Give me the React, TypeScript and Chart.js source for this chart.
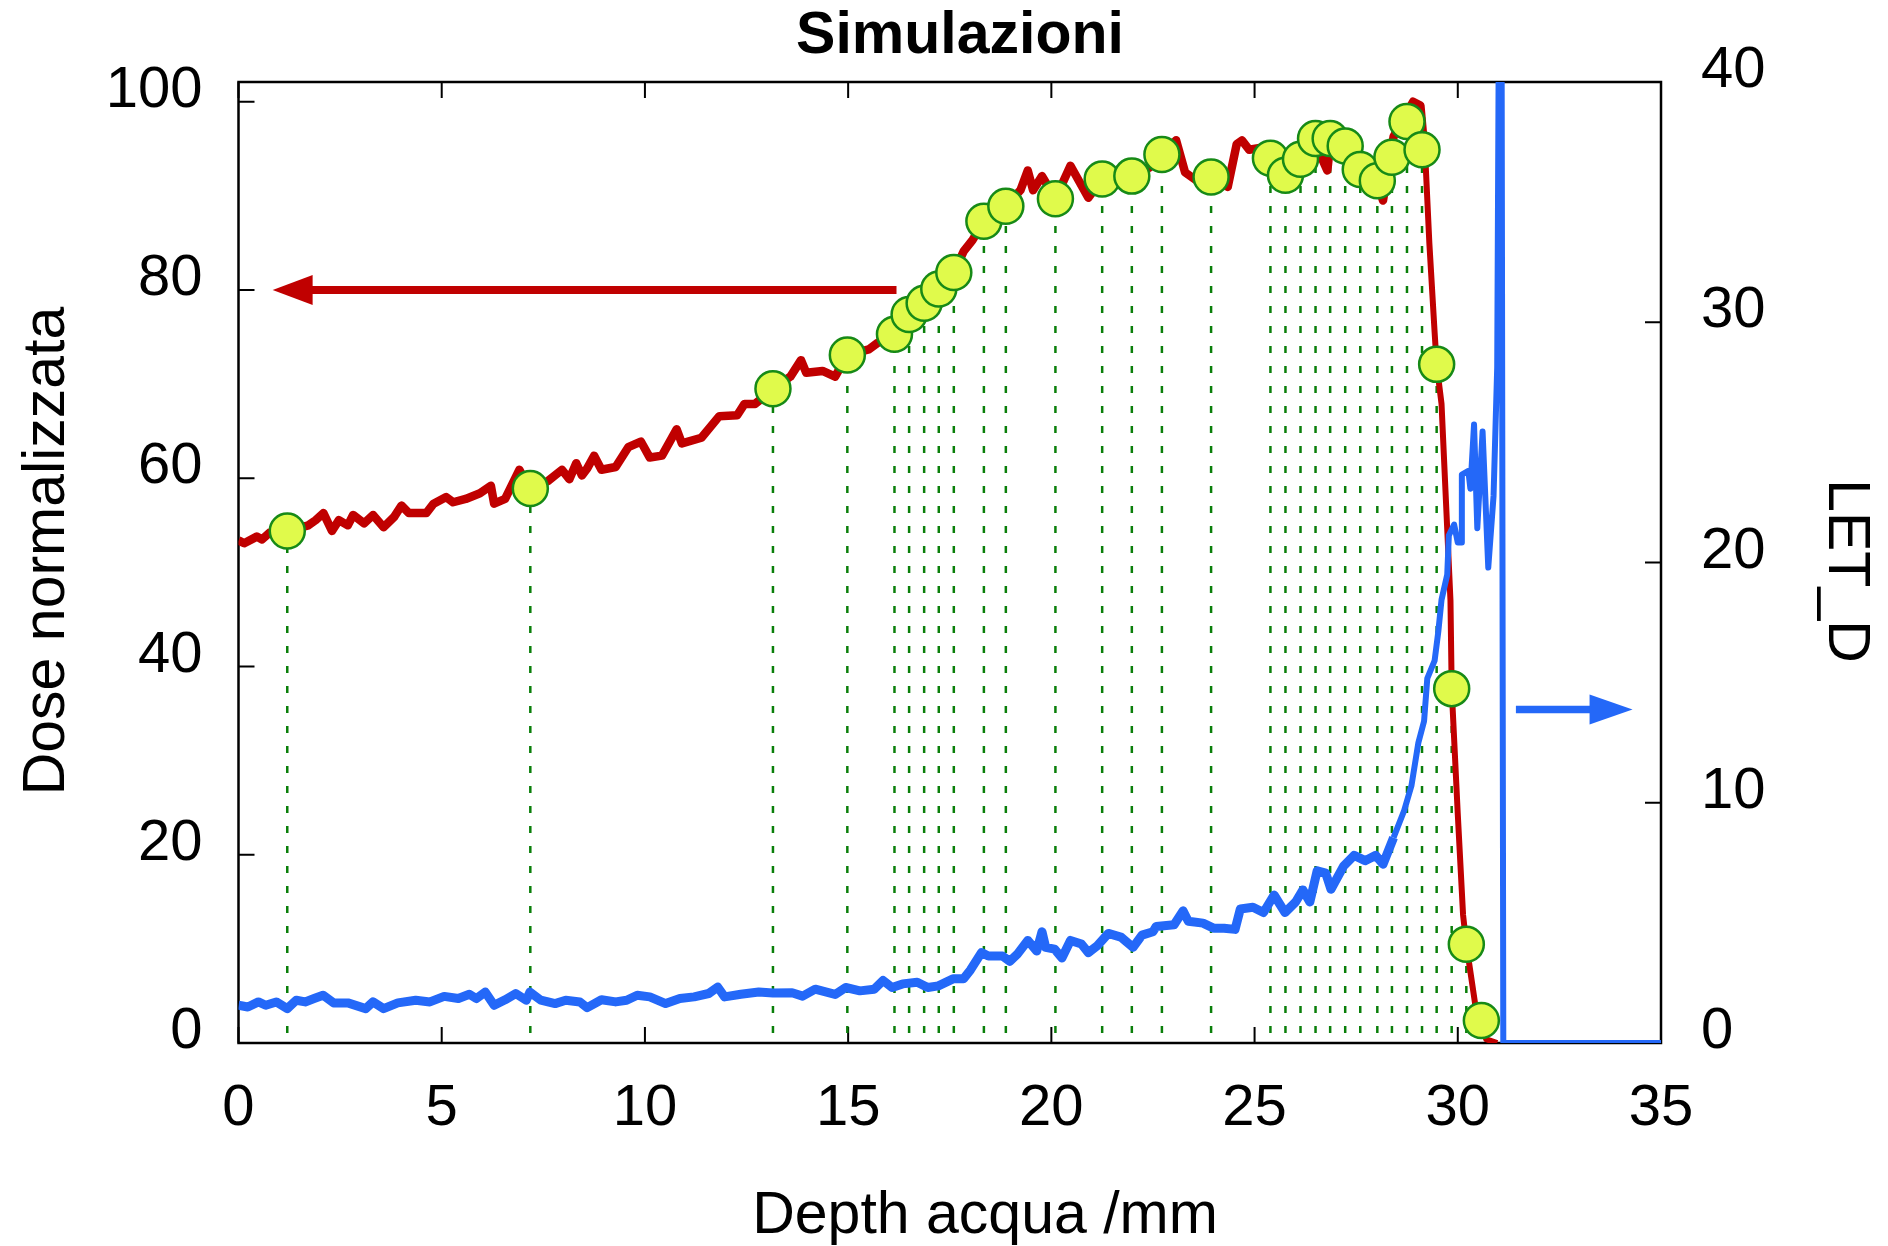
import React, { useEffect, useRef } from "react";
import { Chart, registerables } from "chart.js";

Chart.register(...registerables);

const FONT = "'Liberation Sans', Arial, Helvetica, sans-serif";

const chartTitle = "Simulazioni";
const xTitle = "Depth acqua /mm";
const doseTitle = "Dose normalizzata";
const letTitle = "LET_D";

const depthTicks = [0, 5, 10, 15, 20, 25, 30, 35];
const doseTicks = [0, 20, 40, 60, 80, 100];
const letTicks = [0, 10, 20, 30, 40];

// Dose profile (depth mm, normalised dose)
const doseProfile: [number, number][] = [
  [0, 53.4], [0.14, 53.1], [0.45, 53.8], [0.58, 53.5], [0.76, 54.2], [1.2, 54.4], [1.72, 55.0],
  [1.9, 55.55], [2.09, 56.3], [2.3, 54.4], [2.47, 55.55], [2.69, 55.0], [2.82, 56.1], [3.09, 55.2],
  [3.31, 56.1], [3.57, 54.8], [3.83, 55.9], [4.01, 57.1], [4.19, 56.3], [4.62, 56.3], [4.8, 57.3],
  [5.11, 58.0], [5.28, 57.45], [5.59, 57.8], [5.94, 58.4], [6.21, 59.2], [6.29, 57.3], [6.56, 57.8],
  [6.91, 60.9], [7.08, 59.5], [7.18, 58.9], [7.61, 59.7], [7.96, 60.9], [8.14, 59.9], [8.31, 61.6],
  [8.45, 60.3], [8.58, 61.05], [8.75, 62.4], [8.93, 60.9], [9.28, 61.2], [9.59, 63.3], [9.9, 63.9],
  [10.12, 62.2], [10.42, 62.4], [10.78, 65.2], [10.91, 63.7], [11.39, 64.3], [11.83, 66.6],
  [12.27, 66.7], [12.45, 67.9], [12.71, 67.9], [12.97, 68.8], [13.15, 69.5], [13.58, 70.8],
  [13.84, 72.55], [13.97, 71.2], [14.37, 71.4], [14.68, 70.8], [14.98, 73.1], [15.51, 73.7],
  [15.73, 74.4], [16.14, 75.3], [16.5, 77.4], [16.87, 78.6], [17.23, 80.1], [17.6, 81.85],
  [17.84, 84.1], [18.06, 85.3], [18.34, 87.3], [18.88, 88.9], [19.24, 90.6], [19.42, 92.7],
  [19.55, 90.6], [19.77, 92.1], [20.1, 89.7], [20.47, 93.2], [20.91, 89.8], [21.25, 91.8],
  [21.98, 92.1], [22.41, 93.0], [22.72, 94.4], [23.07, 95.9], [23.29, 92.5], [23.55, 91.7],
  [23.93, 92.0], [24.34, 90.95], [24.56, 95.5], [24.69, 95.9], [24.87, 94.9], [25.13, 95.1],
  [25.39, 94.5], [25.76, 93.5], [26.13, 94.5], [26.5, 95.5], [26.79, 92.7], [26.86, 95.5],
  [27.23, 95.0], [27.6, 93.0], [28.02, 91.5], [28.16, 89.5], [28.42, 96.3], [28.9, 100.0],
  [29.08, 99.6], [29.21, 93.3], [29.3, 85.0], [29.43, 75.5], [29.48, 72.1], [29.6, 67.9],
  [29.82, 47.0], [29.85, 37.65], [30.0, 24.3], [30.13, 13.6], [30.21, 10.5], [30.44, 3.77],
  [30.7, 0.4], [30.97, 0],
];

// LET_D profile (depth mm, LET)
const letProfile: [number, number][] = [
  [0, 1.57], [0.23, 1.5], [0.49, 1.71], [0.67, 1.57], [0.93, 1.71], [1.2, 1.43], [1.42, 1.78],
  [1.64, 1.71], [1.86, 1.85], [2.08, 1.99], [2.34, 1.67], [2.69, 1.67], [3.13, 1.43], [3.31, 1.71],
  [3.57, 1.43], [3.92, 1.67], [4.36, 1.78], [4.71, 1.71], [5.06, 1.94], [5.41, 1.85], [5.68, 2.03],
  [5.85, 1.85], [6.07, 2.12], [6.29, 1.57], [6.56, 1.8], [6.82, 2.06], [7.08, 1.78], [7.17, 2.12],
  [7.44, 1.78], [7.79, 1.64], [8.05, 1.78], [8.4, 1.71], [8.58, 1.47], [8.93, 1.8], [9.28, 1.71],
  [9.55, 1.78], [9.81, 1.99], [10.12, 1.92], [10.51, 1.64], [10.86, 1.85], [11.21, 1.92],
  [11.57, 2.06], [11.79, 2.33], [11.96, 1.92], [12.36, 2.03], [12.8, 2.12], [13.15, 2.08],
  [13.62, 2.09], [13.88, 1.95], [14.19, 2.24], [14.68, 2.02], [14.94, 2.31], [15.29, 2.17],
  [15.64, 2.24], [15.86, 2.6], [16.08, 2.31], [16.34, 2.46], [16.7, 2.53], [16.96, 2.31],
  [17.22, 2.38], [17.58, 2.67], [17.84, 2.67], [18.01, 3.04], [18.28, 3.76], [18.45, 3.62],
  [18.8, 3.62], [18.98, 3.4], [19.16, 3.69], [19.42, 4.27], [19.64, 3.83], [19.77, 4.63],
  [19.86, 3.98], [20.08, 3.91], [20.26, 3.54], [20.47, 4.27], [20.74, 4.12], [20.91, 3.76],
  [21.13, 4.05], [21.4, 4.56], [21.71, 4.41], [22.01, 3.98], [22.23, 4.49], [22.5, 4.63],
  [22.58, 4.85], [23.02, 4.92], [23.24, 5.5], [23.37, 5.07], [23.73, 4.99], [23.99, 4.78],
  [24.25, 4.78], [24.52, 4.73], [24.65, 5.58], [24.96, 5.65], [25.22, 5.43], [25.48, 6.16],
  [25.75, 5.43], [26.01, 5.87], [26.19, 6.37], [26.36, 5.87], [26.54, 7.17], [26.75, 7.07],
  [26.88, 6.4], [27.19, 7.36], [27.45, 7.81], [27.72, 7.59], [27.98, 7.81], [28.16, 7.44],
  [28.42, 8.55], [28.68, 9.67], [28.86, 10.71], [29.03, 12.5], [29.17, 13.39], [29.25, 15.18],
  [29.43, 15.92], [29.52, 17.11], [29.6, 18.45], [29.74, 19.49], [29.78, 21.13], [29.91, 21.58],
  [30.0, 20.83], [30.09, 20.83], [30.1, 23.66], [30.26, 23.81], [30.31, 23.07], [30.4, 25.74],
  [30.48, 21.43], [30.61, 25.45], [30.75, 19.79], [30.88, 22.77], [30.97, 28.12], [31.06, 60],
  [31.12, 0], [35, 0],
];

// Sampled points (depth mm, dose)
const sampleDepth = [
  1.2, 7.18, 13.15, 14.98, 16.14, 16.5, 16.87, 17.23, 17.6, 18.34, 18.88, 20.1, 21.25, 21.98,
  22.72, 23.93, 25.39, 25.76, 26.13, 26.5, 26.86, 27.23, 27.6, 28.02, 28.38, 28.75, 29.12,
  29.48, 29.85, 30.21, 30.58,
];
const sampleDose = [
  54.4, 58.9, 69.5, 73.1, 75.3, 77.4, 78.6, 80.1, 81.85, 87.3, 88.9, 89.7, 91.8, 92.1,
  94.4, 92.0, 94.0, 92.2, 93.9, 96.1, 96.1, 95.3, 92.8, 91.6, 94.1, 97.9, 94.9,
  72.1, 37.65, 10.5, 2.4,
];

// Arrows: [tail, tip] in data units
const doseArrow: [number, number][] = [[16.19, 80], [0.84, 80]];
const letArrow: [number, number][] = [[31.43, 13.88], [34.3, 13.88]];

const RED = "#c00000";
const BLUE = "#2468f8";
const MARK_FILL = "#e0fa4b";
const MARK_EDGE = "#178a17";
const DROP = "#0a7f0a";

function drawArrow(
  ctx: CanvasRenderingContext2D,
  x1: number, y1: number, x2: number, y2: number,
  color: string, shaft: number, headLen: number, headW: number
) {
  const ang = Math.atan2(y2 - y1, x2 - x1);
  const c = Math.cos(ang), s = Math.sin(ang);
  const bx = x2 - c * headLen, by = y2 - s * headLen;
  ctx.save();
  ctx.strokeStyle = color;
  ctx.fillStyle = color;
  ctx.lineWidth = shaft;
  ctx.lineCap = "butt";
  ctx.beginPath();
  ctx.moveTo(x1, y1);
  ctx.lineTo(bx + c * 2, by + s * 2);
  ctx.stroke();
  ctx.beginPath();
  ctx.moveTo(x2, y2);
  ctx.lineTo(bx - s * headW / 2, by + c * headW / 2);
  ctx.lineTo(bx + s * headW / 2, by - c * headW / 2);
  ctx.closePath();
  ctx.fill();
  ctx.restore();
}

const framePlugin = {
  id: "frameAndLabels",
  beforeDatasetsDraw(chart: any) {
    const ctx: CanvasRenderingContext2D = chart.ctx;
    const { left, right, top, bottom } = chart.chartArea;
    const xs = chart.scales.x, ys = chart.scales.y, y2s = chart.scales.y2;
    ctx.save();
    ctx.strokeStyle = "#000";
    ctx.lineWidth = 2.5;
    ctx.strokeRect(left, top, right - left, bottom - top);
    ctx.lineWidth = 2;
    const tl = 16;
    ctx.beginPath();
    for (const v of depthTicks) {
      const px = xs.getPixelForValue(v);
      ctx.moveTo(px, bottom); ctx.lineTo(px, bottom - tl);
      ctx.moveTo(px, top); ctx.lineTo(px, top + tl);
    }
    for (const v of doseTicks) {
      const py = ys.getPixelForValue(v);
      ctx.moveTo(left, py); ctx.lineTo(left + tl, py);
    }
    for (const v of letTicks) {
      const py = y2s.getPixelForValue(v);
      ctx.moveTo(right, py); ctx.lineTo(right - tl, py);
    }
    ctx.stroke();
    ctx.restore();
  },
  afterDatasetsDraw(chart: any) {
    const ctx: CanvasRenderingContext2D = chart.ctx;
    const xs = chart.scales.x, ys = chart.scales.y, y2s = chart.scales.y2;
    drawArrow(
      ctx,
      xs.getPixelForValue(doseArrow[0][0]), ys.getPixelForValue(doseArrow[0][1]),
      xs.getPixelForValue(doseArrow[1][0]), ys.getPixelForValue(doseArrow[1][1]),
      RED, 8, 40, 30
    );
    drawArrow(
      ctx,
      xs.getPixelForValue(letArrow[0][0]), y2s.getPixelForValue(letArrow[0][1]),
      xs.getPixelForValue(letArrow[1][0]), y2s.getPixelForValue(letArrow[1][1]),
      BLUE, 7.5, 43, 30
    );
  },
  afterDraw(chart: any) {
    const ctx: CanvasRenderingContext2D = chart.ctx;
    ctx.save();
    ctx.fillStyle = "#000";
    ctx.textBaseline = "alphabetic";
    ctx.textAlign = "center";
    ctx.font = `bold 59px ${FONT}`;
    ctx.fillText(chartTitle, 960, 53);
    ctx.font = `59px ${FONT}`;
    ctx.fillText(xTitle, 985, 1233);
    ctx.save();
    ctx.translate(64, 551);
    ctx.rotate(-Math.PI / 2);
    ctx.fillText(doseTitle, 0, 0);
    ctx.restore();
    ctx.save();
    ctx.translate(1829, 571);
    ctx.rotate(Math.PI / 2);
    ctx.fillText(letTitle, 0, 0);
    ctx.restore();
    ctx.restore();
  },
};

export default function App() {
  const ref = useRef<HTMLCanvasElement>(null);

  useEffect(() => {
    document.body.style.margin = "0";
    const canvas = ref.current!;
    Chart.defaults.font.family = FONT;

    const dropData: any[] = [];
    sampleDepth.forEach((x, i) => {
      dropData.push({ x, y: 0 }, { x, y: sampleDose[i] }, { x, y: null });
    });

    const tickFont = { size: 58, family: FONT };

    const chart = new Chart(canvas, {
      type: "line",
      data: {
        datasets: [
          {
            label: "campioni",
            data: sampleDepth.map((x, i) => ({ x, y: sampleDose[i] })),
            yAxisID: "y",
            showLine: false,
            pointRadius: 17.5,
            pointBackgroundColor: MARK_FILL,
            pointBorderColor: MARK_EDGE,
            pointBorderWidth: 2.5,
            clip: false,
          },
          {
            label: "LET_D",
            data: letProfile.map(([x, y]) => ({ x, y })),
            yAxisID: "y2",
            borderColor: BLUE,
            borderWidth: 6,
            borderJoinStyle: "round",
            segment: {
              borderWidth: (c: any) => (c.p0.parsed.x < 28.4 ? 9 : 6),
            },
            pointRadius: 0,
            tension: 0,
          },
          {
            label: "Dose",
            data: doseProfile.map(([x, y]) => ({ x, y })),
            yAxisID: "y",
            borderColor: RED,
            borderWidth: 6,
            borderJoinStyle: "round",
            segment: {
              borderWidth: (c: any) => (c.p0.parsed.x < 29.1 ? 8.5 : 6),
            },
            pointRadius: 0,
            tension: 0,
          },
          {
            label: "drop",
            data: dropData,
            yAxisID: "y",
            borderColor: DROP,
            borderWidth: 2.5,
            borderDash: [7, 13],
            borderDashOffset: 10,
            pointRadius: 0,
            spanGaps: false,
            tension: 0,
          },
        ],
      },
      options: {
        responsive: false,
        animation: false,
        events: [],
        layout: { padding: { top: 82, left: 0, right: 0, bottom: 0 } },
        plugins: {
          legend: { display: false },
          tooltip: { enabled: false },
          title: { display: false },
        },
        scales: {
          x: {
            type: "linear",
            position: "bottom",
            min: 0,
            max: 35,
            grid: { display: false, drawTicks: false, tickLength: 0 },
            border: { display: false },
            ticks: { padding: 31, font: tickFont, color: "#000", maxRotation: 0, autoSkip: false },
            afterBuildTicks: (s: any) => { s.ticks = depthTicks.map((v) => ({ value: v })); },
            afterFit: (s: any) => { s.height = 203; },
          },
          y: {
            type: "linear",
            position: "left",
            min: 0,
            max: 102.1,
            grid: { display: false, drawTicks: false, tickLength: 0 },
            border: { display: false },
            ticks: { padding: 36, labelOffset: -11, font: tickFont, color: "#000", autoSkip: false },
            afterBuildTicks: (s: any) => { s.ticks = doseTicks.map((v) => ({ value: v })); },
            afterFit: (s: any) => { s.width = 238.5; },
          },
          y2: {
            type: "linear",
            position: "right",
            min: 0,
            max: 40,
            grid: { display: false, drawTicks: false, tickLength: 0 },
            border: { display: false },
            ticks: { padding: 40, labelOffset: -11, font: tickFont, color: "#000", autoSkip: false },
            afterBuildTicks: (s: any) => { s.ticks = letTicks.map((v) => ({ value: v })); },
            afterFit: (s: any) => { s.width = 227; },
          },
        },
      },
      plugins: [framePlugin],
    } as any);

    return () => chart.destroy();
  }, []);

  return (
    <div>
      <canvas
        ref={ref}
        width={1888}
        height={1246}
        style={{ display: "block", width: 1888, height: 1246 }}
      />
    </div>
  );
}
